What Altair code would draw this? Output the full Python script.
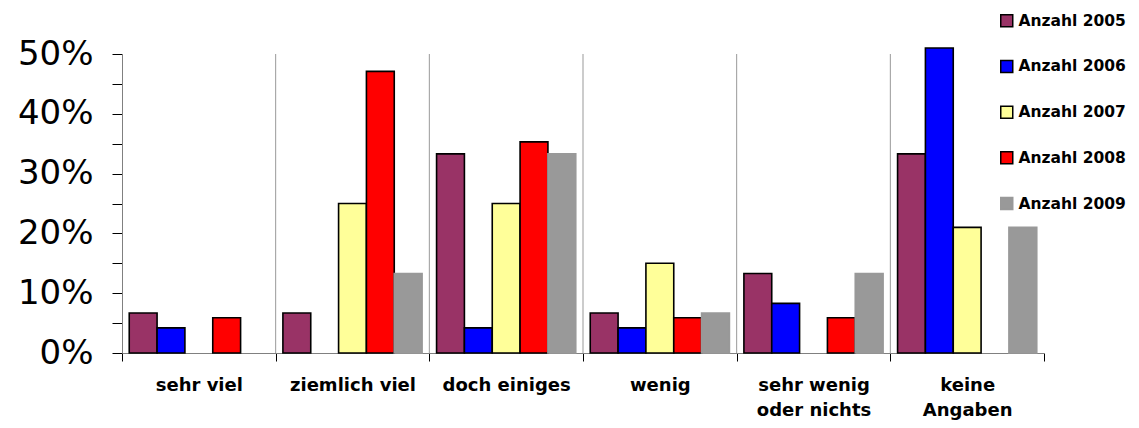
import altair as alt
import pandas as pd

categories = ["sehr viel", "ziemlich viel", "doch einiges", "wenig",
              "sehr wenig oder nichts", "keine Angaben"]
series = ["Anzahl 2005", "Anzahl 2006", "Anzahl 2007", "Anzahl 2008", "Anzahl 2009"]
v2005 = [0.067, 0.067, 0.333, 0.067, 0.133, 0.333]
v2006 = [0.042, 0.0, 0.042, 0.042, 0.083, 0.51]
v2007 = [0.0, 0.25, 0.25, 0.15, 0.0, 0.21]
v2008 = [0.059, 0.471, 0.353, 0.059, 0.059, 0.0]
v2009 = [0.0, 0.133, 0.333, 0.067, 0.133, 0.21]
fills = ["#993366", "#0000FF", "#FFFF99", "#FF0000", "#999999"]
strokes = ["#000000", "#000000", "#000000", "#000000", "#999999"]
y_ticks = [0, 0.05, 0.1, 0.15, 0.2, 0.25, 0.3, 0.35, 0.4, 0.45, 0.5]

rows = []
for s, vals in zip(series, [v2005, v2006, v2007, v2008, v2009]):
    for c, v in zip(categories, vals):
        if v > 0:
            rows.append({"cat": c, "series": s, "value": v})
df = pd.DataFrame(rows)
sep_df = pd.DataFrame({"cat": categories[1:]})

W, H = 922, 299

xscale = alt.Scale(domain=categories, paddingInner=0, paddingOuter=0)

label_expr = ("datum.value == 'sehr wenig oder nichts' ? ['sehr wenig', 'oder nichts'] : "
              "datum.value == 'keine Angaben' ? ['keine', 'Angaben'] : datum.label")

x_axis = alt.Axis(title=None, labelAngle=0, tickBand="extent", grid=False,
                  domainColor="#808080", tickColor="#000000", tickSize=8,
                  labelFont="DejaVu Sans", labelFontWeight="bold", labelFontSize=18,
                  labelColor="#000000", labelPadding=15, labelLineHeight=25,
                  labelExpr=label_expr)

y_axis = alt.Axis(title=None, values=y_ticks, grid=False, tickSize=10,
                  labelPadding=19, labelFont="DejaVu Sans", labelFontSize=34,
                  labelColor="#000000", labelOverlap=False,
                  domainColor="#808080", tickColor="#000000",
                  labelExpr="round(datum.value*100) % 10 == 0 ? format(datum.value, '.0%') : ''")

legend = alt.Legend(title=None, orient="none", legendX=877, legendY=-41,
                    symbolType="square", symbolSize=144,
                    symbolStrokeWidth=1.5, labelFont="DejaVu Sans",
                    labelFontWeight="bold", labelFontSize=15.5,
                    labelColor="#000000", labelOffset=4, rowPadding=26.7)

seps = alt.Chart(sep_df).mark_rule(color="#999999", strokeWidth=1).encode(
    x=alt.X("cat:N", scale=xscale, bandPosition=0, axis=x_axis),
    y=alt.value(0),
    y2=alt.value(H),
)

bars = alt.Chart(df).mark_bar(strokeWidth=1.6).encode(
    x=alt.X("cat:N", scale=xscale, axis=x_axis, sort=categories),
    xOffset=alt.XOffset("series:N", scale=alt.Scale(domain=series, paddingInner=0, paddingOuter=0.26)),
    y=alt.Y("value:Q", scale=alt.Scale(domain=[0, 0.5], nice=False), axis=y_axis),
    fill=alt.Fill("series:N", scale=alt.Scale(domain=series, range=fills), legend=legend),
    stroke=alt.Stroke("series:N", scale=alt.Scale(domain=series, range=strokes), legend=legend),
)

chart = alt.layer(seps, bars).properties(
    width=W, height=H,
    autosize=alt.AutoSizeParams(type="none"),
    padding={"left": 114, "top": 46, "right": 87, "bottom": 67},
).configure_view(stroke=None)

chart.save("out.html", embed_options={"renderer": "svg", "actions": False})
